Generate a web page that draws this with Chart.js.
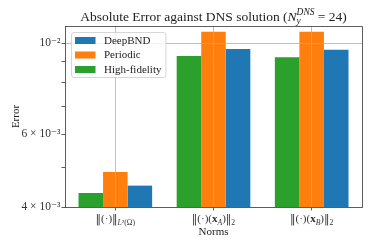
<!DOCTYPE html>
<html>
<head>
<meta charset="utf-8">
<script src="https://cdn.jsdelivr.net/npm/chart.js@4/dist/chart.umd.min.js"></script>
<style>
    html, body { margin: 0; padding: 0; background: #fff; }
    #wrap { width: 374px; height: 249px; }
</style>
</head>
<body>
<div id="wrap"><canvas id="myChart"></canvas></div>
<script>
// data
const categories = ["‖(·)‖_{L²(Ω)}", "‖(·)(**x**_{A})‖_{2}", "‖(·)(**x**_{B})‖_{2}"];
const seriesNames = ["High-fidelity", "Periodic", "DeepBND"];
const seriesColors = ["#2ca02c", "#ff7f0e", "#1f77b4"];
const highFidelity = [0.004325, 0.0093, 0.00924];
const periodic = [0.004864, 0.01065, 0.01065];
const deepBND = [0.004507, 0.00967, 0.00963];
const yTicks = [0.004, 0.005, 0.006, 0.007, 0.008, 0.009, 0.01];
const yTickLabels = { 0.004: "4 × 10⁻³", 0.006: "6 × 10⁻³", 0.01: "10⁻²" };
const chartTitle = "Absolute Error against DNS solution (*N*_{y}^{DNS} = 24)";

const serif = '"Liberation Serif", "DejaVu Serif", serif';
const ink = "#222";

// tiny markup: **bold**, *italic*, _{sub}, ^{sup}
function parseMarkup(s) {
    const re = /\*\*([^*]+)\*\*|\*([^*]+)\*|_\{([^}]*)\}|\^\{([^}]*)\}|([^*_^]+)/g;
    const out = [];
    let m;
    while ((m = re.exec(s))) {
        if (m[1]) out.push({ text: m[1], kind: "bold" });
        else if (m[2]) out.push({ text: m[2], kind: "ital" });
        else if (m[3]) out.push({ text: m[3], kind: "sub" });
        else if (m[4]) out.push({ text: m[4], kind: "sup" });
        else out.push({ text: m[5], kind: "norm" });
    }
    return out;
}

function layoutRich(ctx, s, size) {
    const runs = [];
    let x = 0, scriptStart = null, scriptW = 0;
    parseMarkup(s).forEach((seg) => {
        const script = seg.kind === "sub" || seg.kind === "sup";
        const sz = script ? size * 0.7 : size;
        const dy = seg.kind === "sub" ? size * 0.28 : seg.kind === "sup" ? -size * 0.42 : 0;
        if (script && scriptStart !== null) x = scriptStart;
        const start = x;
        const pieces = script ? seg.text.match(/[A-Za-z]+|[^A-Za-z]+/g) : seg.text.split(/(‖)/).filter(Boolean);
        pieces.forEach((p) => {
            let style = "";
            if (seg.kind === "bold") style = "bold ";
            else if (seg.kind === "ital" || (script && /[A-Za-z]/.test(p))) style = "italic ";
            const family = p === "‖" ? '"DejaVu Serif", serif' : serif;
            const font = style + sz + "px " + family;
            ctx.font = font;
            runs.push({ text: p, font, x, dy });
            x += ctx.measureText(p).width;
        });
        if (script) {
            if (scriptStart === null) { scriptStart = start; scriptW = x - start; }
            else { x = start + Math.max(scriptW, x - start); scriptStart = null; }
        } else {
            scriptStart = null;
        }
    });
    return { runs, width: x };
}

function drawRich(ctx, s, size, cx, baseline) {
    const lay = layoutRich(ctx, s, size);
    ctx.textAlign = "left";
    ctx.textBaseline = "alphabetic";
    lay.runs.forEach((r) => {
        ctx.font = r.font;
        ctx.fillText(r.text, cx - lay.width / 2 + r.x, baseline + r.dy);
    });
}

const decorations = {
    id: "decorations",
    afterDraw(chart) {
        const ctx = chart.ctx;
        const ca = chart.chartArea;
        ctx.save();

        // top and right spines
        ctx.strokeStyle = "#333";
        ctx.lineWidth = 0.8;
        ctx.beginPath();
        ctx.moveTo(ca.left, ca.top + 0.5);
        ctx.lineTo(ca.right + 0.5, ca.top + 0.5);
        ctx.lineTo(ca.right + 0.5, ca.bottom);
        ctx.stroke();

        // legend (reverse dataset order, as in the figure)
        const ds = chart.data.datasets.slice().reverse();
        const fs = 11;
        ctx.font = fs + "px " + serif;
        const maxW = Math.max(...ds.map((d) => ctx.measureText(d.label).width));
        const lx = ca.left + 6, ly = ca.top + 6;
        const lw = 33 + maxW + 4, lh = 45;
        ctx.fillStyle = "rgba(255,255,255,0.8)";
        ctx.strokeStyle = "rgba(204,204,204,0.8)";
        ctx.lineWidth = 1;
        ctx.beginPath();
        if (ctx.roundRect) ctx.roundRect(lx + 0.5, ly + 0.5, lw, lh, 2.5);
        else ctx.rect(lx + 0.5, ly + 0.5, lw, lh);
        ctx.fill();
        ctx.stroke();
        ds.forEach((d, i) => {
            const cy = ly + 8.5 + i * 14.5;
            ctx.fillStyle = d.backgroundColor;
            ctx.fillRect(lx + 4, cy - 3.5, 20.5, 7);
            ctx.fillStyle = ink;
            ctx.textAlign = "left";
            ctx.textBaseline = "middle";
            ctx.font = fs + "px " + serif;
            ctx.fillText(d.label, lx + 33, cy + 0.5);
        });

        // title
        ctx.fillStyle = ink;
        drawRich(ctx, chartTitle, 13.5, (ca.left + ca.right) / 2, 20.5);

        // x tick labels
        const xs = chart.scales.x;
        ctx.fillStyle = "#333";
        categories.forEach((c, i) => {
            drawRich(ctx, c, 11, xs.getPixelForValue(i), ca.bottom + 14.5);
        });
        ctx.restore();
    },
};

new Chart(document.getElementById("myChart"), {
    type: "bar",
    data: {
        datasets: [highFidelity, periodic, deepBND].map((vals, k) => ({
            label: seriesNames[k],
            data: vals.map((v, i) => ({ x: i, y: v })),
            backgroundColor: seriesColors[k],
            borderWidth: 0,
            barPercentage: 1,
            categoryPercentage: 0.75,
        })),
    },
    options: {
        responsive: true,
        maintainAspectRatio: false,
        animation: false,
        layout: { padding: { top: 26, right: 12, left: 0, bottom: 0 } },
        plugins: {
            legend: { display: false },
            title: { display: false },
            tooltip: { enabled: false },
        },
        scales: {
            x: {
                type: "linear",
                offset: false,
                min: -0.5125,
                max: 2.5125,
                afterBuildTicks: (s) => { s.ticks = categories.map((c, i) => ({ value: i })); },
                afterFit: (s) => { s.height = 42; },
                ticks: { display: false },
                grid: { offset: false, color: "#b0b0b0", lineWidth: 0.8, z: 1, tickLength: 3.5, tickColor: "#333" },
                border: { color: "#333", width: 0.8, z: 1 },
                title: {
                    display: true, text: "Norms", color: ink,
                    font: { family: serif, size: 11 }, padding: { top: 0, bottom: 10 },
                },
            },
            y: {
                type: "logarithmic",
                min: 0.004,
                max: 0.011,
                afterBuildTicks: (s) => { s.ticks = yTicks.map((v) => ({ value: v })); },
                afterFit: (s) => { s.width = 65; },
                ticks: {
                    callback: (v) => yTickLabels[v] || "",
                    color: "#333", autoSkip: false, padding: 1,
                    font: { family: serif, size: 11.5 },
                },
                grid: {
                    color: (c) => (c.tick && c.tick.value === 0.01 ? "#b0b0b0" : "rgba(0,0,0,0)"),
                    lineWidth: 0.8, z: 1, tickLength: 3.5, tickColor: "#333",
                },
                border: { color: "#333", width: 0.8, z: 1 },
                title: {
                    display: true, text: "Error", color: ink,
                    font: { family: serif, size: 11 }, padding: { top: 9.5, bottom: 0 },
                },
            },
        },
    },
    plugins: [decorations],
});
</script>
</body>
</html>
